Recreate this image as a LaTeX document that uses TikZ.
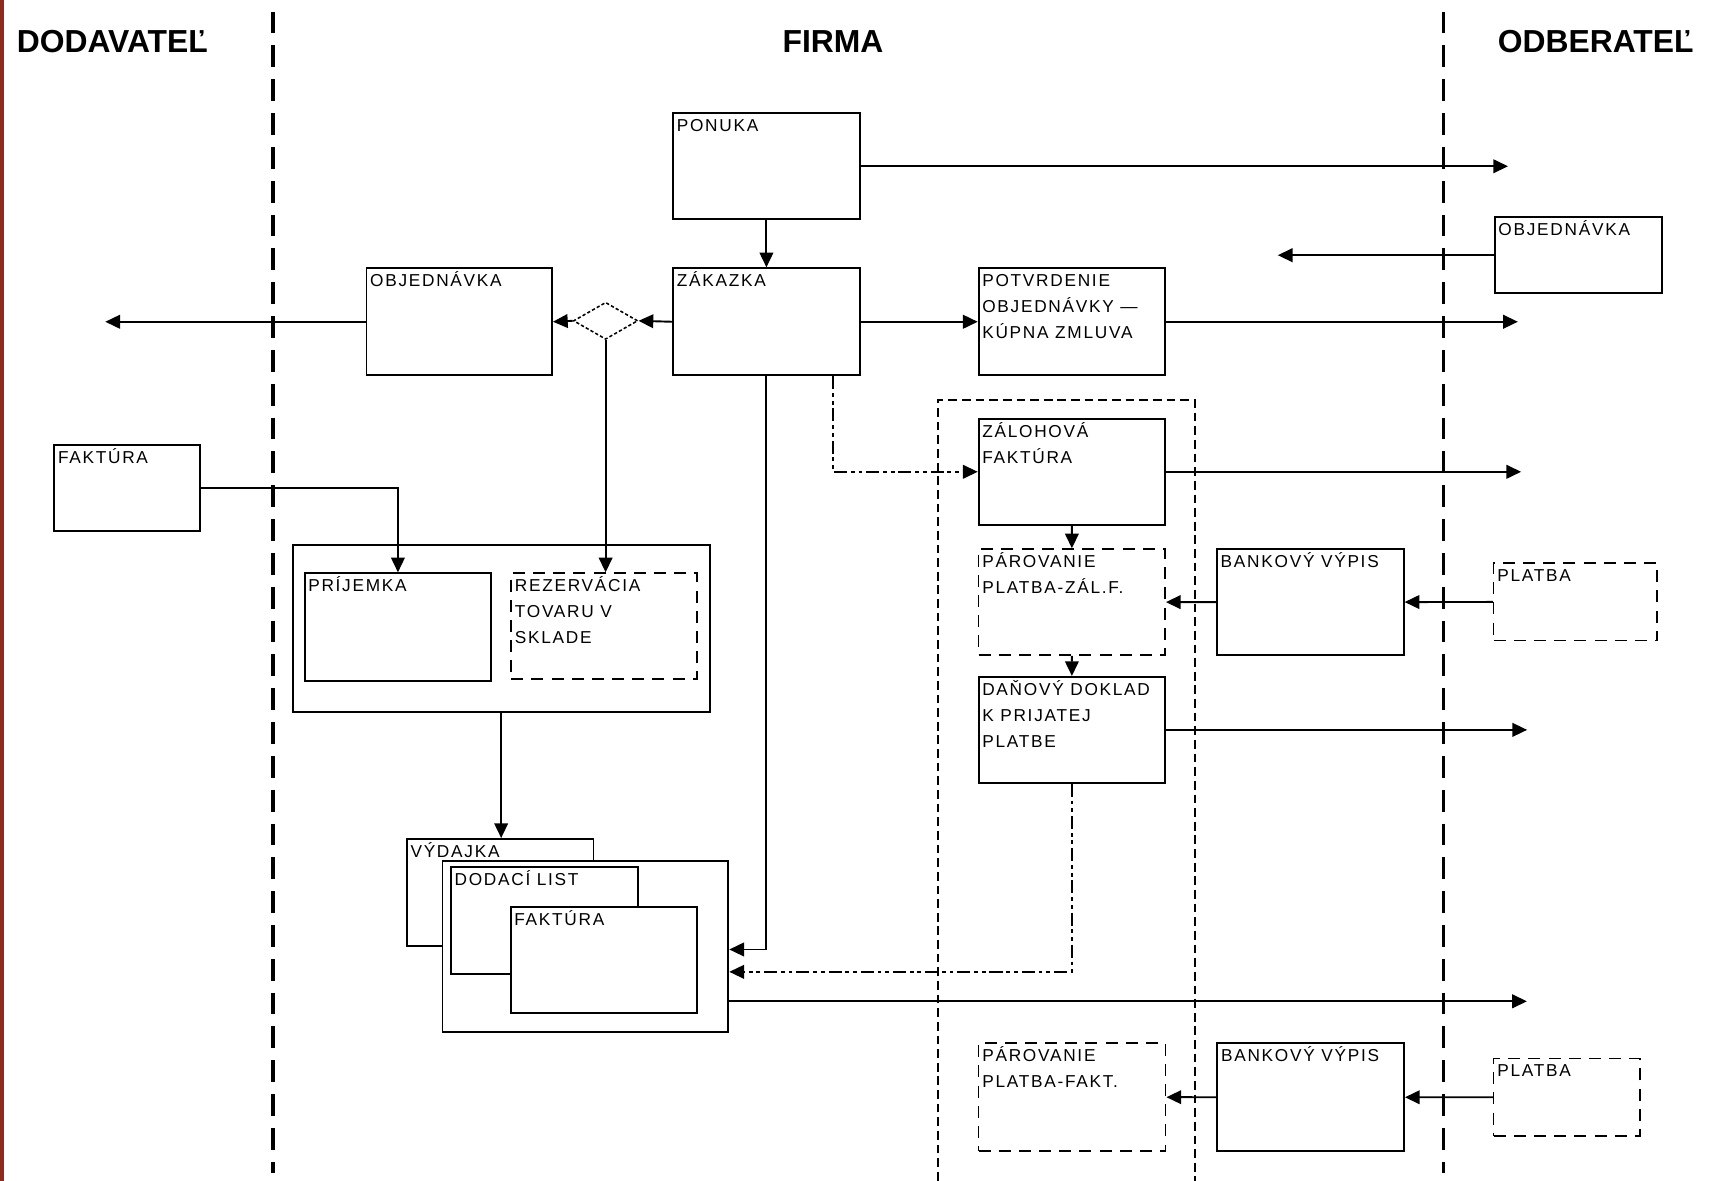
\documentclass[tikz,border=0pt]{standalone}
\usepackage{fontspec}
\setmainfont{Liberation Sans}
\newfontfamily\docfont[LetterSpace=10]{Liberation Sans}
\usetikzlibrary{arrows.meta,shapes.geometric}
\definecolor{stripred}{RGB}{142,42,30}
\newcommand{\doctext}[1]{\begin{tabular}[t]{@{}l@{}}#1\end{tabular}}
\begin{document}
\begin{tikzpicture}[x=0.1mm, y=-0.1mm, line join=miter, >={Triangle[length=1.35mm,width=1.25mm]},
		doclabel/.style={anchor=base west, inner sep=0pt, xshift=0.35mm, yshift=-1.75mm, font=\docfont\fontsize{4.5}{6.8}\selectfont},
		box/.style={draw, fill=white, line width=0.5pt, anchor=north west, inner sep=0pt},
		doc/.style={box, minimum width=17.1mm, minimum height=9.7mm, label={[doclabel]north west:\doctext{#1}}},
		dashdoc/.style={doc=#1, line width=0.42pt, dash pattern=on 1.1mm off 0.75mm},
		head/.style={anchor=base west, inner sep=0pt, font=\bfseries\fontsize{8.3}{10}\selectfont},
		arr/.style={->, line width=0.5pt},
		dd/.style={line width=0.45pt, dash pattern=on 1.2mm off 0.35mm on 0.35mm off 0.35mm on 0.35mm off 0.35mm},
		sep/.style={line width=0.9pt, dash pattern=on 2mm off 1.1mm},
		frame/.style={line width=0.35pt, dash pattern=on 0.8mm off 0.45mm}]
	\useasboundingbox (0,0) rectangle (1568,1082);
	\fill[stripred] (0,0) rectangle (3.5,1082);
	\node[head] (dodavatel) at (14.7,48.3) {DODAVATEĽ};
	\node[head] (firma) at (716.5,48.3) {FIRMA};
	\node[head] (odberatel) at (1372,48.3) {ODBERATEĽ};
	\draw[sep] (250,10.7) -- (250,1075);
	\draw[sep] (1322.6,10.7) -- (1322.6,1075);
	\draw[frame] (859.5,1082) -- (859.5,366.6) -- (1095,366.6) -- (1095,1082);
	\node[doc=PONUKA] (ponuka) at (616,103) {};
	\node[doc=ZÁKAZKA, minimum height=9.8mm] (zakazka) at (616,245) {};
	\node[doc=OBJEDNÁVKA, minimum width=17mm, minimum height=9.8mm] (objdod) at (335,245) {};
	\node[doc={POTVRDENIE\\OBJEDNÁVKY —\\KÚPNA ZMLUVA}, minimum height=9.8mm] (potvrd) at (896,245) {};
	\node[doc=OBJEDNÁVKA, minimum width=15.3mm, minimum height=7mm] (objodb) at (1369,198) {};
	\node[diamond, draw, line width=0.4pt, dash pattern=on 0.3mm off 0.2mm, minimum width=5.9mm, minimum height=3.4mm, inner sep=0pt] (vyber) at (555,294) {};
	\node[doc={ZÁLOHOVÁ\\FAKTÚRA}] (zaloha) at (896,383) {};
	\node[dashdoc={PÁROVANIE\\PLATBA-ZÁL.F.}] (parzal) at (896,502.5) {};
	\node[doc={BANKOVÝ VÝPIS}] (banka) at (1114.5,502.5) {};
	\node[dashdoc=PLATBA, minimum width=15mm, minimum height=7.1mm] (platba) at (1368,515.3) {};
	\node[doc={DAŇOVÝ DOKLAD\\K PRIJATEJ\\PLATBE}] (danovy) at (896,619.5) {};
	\node[doc=FAKTÚRA, minimum width=13.3mm, minimum height=7.9mm] (fakdod) at (49,407) {};
	\node[box, minimum width=38.2mm, minimum height=15.3mm] (sklad) at (267.4,498.5) {};
	\node[doc=PRÍJEMKA, minimum height=9.9mm] (prijemka) at (278.3,524.5) {};
	\node[dashdoc={REZERVÁCIA\\TOVARU V\\SKLADE}, minimum width=17.05mm] (rezerv) at (467.7,524.5) {};
	\node[doc=VÝDAJKA, minimum height=9.8mm] (vydajka) at (372,768) {};
	\node[box, minimum width=26.2mm, minimum height=15.65mm] (balik) at (404.6,788) {};
	\node[doc={DODACÍ LIST}, minimum height=9.8mm] (dodaci) at (412.4,793.6) {};
	\node[doc=FAKTÚRA, minimum height=9.75mm] (fakodb) at (467.2,830.3) {};
	\node[dashdoc={PÁROVANIE\\PLATBA-FAKT.}, minimum width=17.15mm, minimum height=9.9mm] (parfak) at (896,955.2) {};
	\node[doc={BANKOVÝ VÝPIS}, minimum height=9.9mm] (banka2) at (1114.8,955.2) {};
	\node[dashdoc=PLATBA, minimum width=13.4mm, minimum height=7.1mm] (platba2) at (1368,969.3) {};
	\coordinate (outponuka) at (1382,0);
	\coordinate (inobj) at (1171,0);
	\coordinate (outpotvrd) at (1391,0);
	\coordinate (outobj) at (96.5,0);
	\coordinate (outzaloha) at (1394,0);
	\coordinate (outdanovy) at (1399.5,0);
	\coordinate (inzak) at ([yshift=-0.3mm]balik.east);
	\coordinate (indan) at ([yshift=-2.35mm]balik.east);
	\coordinate (outbalik) at ([yshift=-5.05mm]balik.east);
	\coordinate (outbalik2) at (1399.3,0);
	\draw[arr] (ponuka) -- (zakazka);
	\draw[arr] (ponuka.east) -- (ponuka.east -| outponuka);
	\draw[arr] (objodb.west) -- (objodb.west -| inobj);
	\draw[arr] (zakazka) -- (potvrd);
	\draw[arr] (potvrd.east) -- (potvrd.east -| outpotvrd);
	\draw[arr] (zakazka.west) -- (vyber.east);
	\draw[arr] (vyber.west) -- (objdod.east);
	\draw[arr] (objdod.west) -- (objdod.west -| outobj);
	\draw[arr] (vyber.south) -- (vyber.south |- rezerv.north);
	\draw[arr] (fakdod.east) -| (prijemka.north);
	\draw[arr] (sklad.south) -- (sklad.south |- vydajka.north);
	\draw[arr] (zakazka.south) |- (inzak);
	\draw[arr, dd] ([xshift=6.1mm]zakazka.south) |- (zaloha.west);
	\draw[arr] (zaloha.east) -- (zaloha.east -| outzaloha);
	\draw[arr] (zaloha) -- (parzal);
	\draw[arr] (parzal) -- (danovy);
	\draw[arr] (platba) -- (banka);
	\draw[arr] (banka) -- (parzal);
	\draw[arr] (danovy.east) -- (danovy.east -| outdanovy);
	\draw[arr, dd] (danovy.south) |- (indan);
	\draw[arr] (outbalik) -- (outbalik -| outbalik2);
	\draw[arr] (platba2) -- (banka2);
	\draw[arr] (banka2) -- (parfak);
\end{tikzpicture}
\end{document}
